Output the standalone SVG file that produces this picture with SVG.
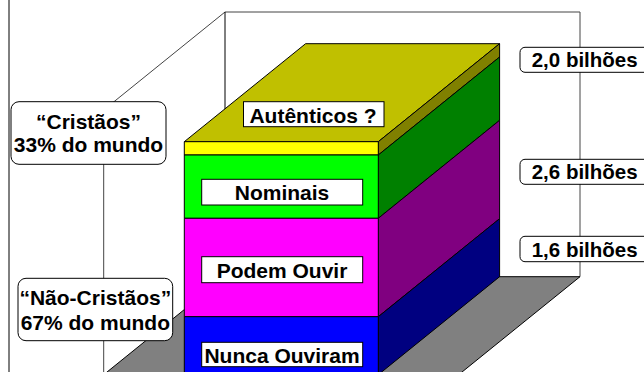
<svg xmlns="http://www.w3.org/2000/svg" width="644" height="372" viewBox="0 0 644 372">
<style>
  .edge { stroke:#000; stroke-width:1; stroke-linejoin:round; }
  .wall { fill:none; stroke:#000; stroke-width:1; }
  .gl { fill:none; stroke:#444; stroke-width:1; }
  .lbl { fill:#fff; stroke:#000; stroke-width:1; }
  .rlbl { fill:#fff; stroke:#000; stroke-width:1; }
  .t { font-family:"Liberation Sans", Arial, sans-serif; font-weight:bold; font-size:21px; fill:#000; text-anchor:middle; }
  .tr { font-family:"Liberation Sans", Arial, sans-serif; font-weight:bold; font-size:20.5px; fill:#000; }
</style>
<rect width="644" height="372" fill="#fff"/>
<g id="frame">
  <line x1="9" y1="0" x2="9" y2="372" class="wall" stroke-width="1.5"/>
</g>
<g id="connectors">
  <polyline points="103.7,372 103.7,110 225,12 580,12 580,276.7" class="gl"/>
  <line x1="225" y1="12" x2="225" y2="276.7" class="wall"/>
</g>
<g id="floor">
  <polygon points="225,276.7 580,276.7 458.7,374.7 103.7,374.7" fill="#808080" class="edge"/>
</g>
<g id="column">
  <polygon points="184.3,141.7 305.6,43.7 499.6,43.7 378.3,141.7" fill="#C0C000" class="edge"/>
  <polygon points="378.3,141.7 499.6,43.7 499.6,57 378.3,155" fill="#808000" class="edge"/>
  <polygon points="378.3,155 499.6,57 499.6,120.3 378.3,218.3" fill="#008000" class="edge"/>
  <polygon points="378.3,218.3 499.6,120.3 499.6,218.7 378.3,316.7" fill="#800080" class="edge"/>
  <polygon points="378.3,316.7 499.6,218.7 499.6,276.7 378.3,374.7" fill="#000080" class="edge"/>
  <rect x="184.3" y="141.7" width="194" height="13.3" fill="#FFFF00" class="edge"/>
  <rect x="184.3" y="155" width="194" height="63.3" fill="#00FF00" class="edge"/>
  <rect x="184.3" y="218.3" width="194" height="98.4" fill="#FF00FF" class="edge"/>
  <rect x="184.3" y="316.7" width="194" height="58" fill="#0000FF" class="edge"/>
</g>
<g id="autenticos">
  <rect x="243.5" y="101.7" width="140.5" height="25" class="lbl"/>
  <text x="313" y="123.3" class="t" font-size="20.5">Autênticos ?</text>
</g>
<g id="nominais">
  <rect x="201.7" y="179.3" width="161" height="25.7" class="lbl"/>
  <text x="282" y="200" class="t" font-size="20">Nominais</text>
</g>
<g id="podem-ouvir">
  <rect x="201.7" y="256.7" width="161" height="26" class="lbl"/>
  <text x="282" y="278.3" class="t" font-size="20">Podem Ouvir</text>
</g>
<g id="nunca-ouviram">
  <rect x="201.7" y="342.3" width="161" height="24.4" class="lbl"/>
  <text x="282" y="363.3" class="t" font-size="19.6">Nunca Ouviram</text>
</g>
<g id="cristaos">
  <rect x="11" y="101.7" width="155" height="62.6" rx="8" class="lbl"/>
  <text x="88.5" y="129.3" class="t">“Cristãos”</text>
  <text x="88.5" y="151.5" class="t">33% do mundo</text>
</g>
<g id="nao-cristaos">
  <rect x="18" y="278.3" width="154.7" height="62.4" rx="8" class="lbl"/>
  <text x="95.3" y="305" class="t">“Não-Cristãos”</text>
  <text x="95.3" y="329.5" class="t">67% do mundo</text>
</g>
<g id="b20">
  <rect x="520" y="47.3" width="140" height="25" rx="5" class="rlbl"/>
  <text x="531.7" y="67.3" class="tr">2,0 bilhões</text>
</g>
<g id="b26">
  <rect x="520" y="159.3" width="140" height="25" rx="5" class="rlbl"/>
  <text x="531.7" y="179.3" class="tr">2,6 bilhões</text>
</g>
<g id="b16">
  <rect x="520" y="236.3" width="140" height="25.4" rx="5" class="rlbl"/>
  <text x="531.7" y="256.5" class="tr">1,6 bilhões</text>
</g>
</svg>
